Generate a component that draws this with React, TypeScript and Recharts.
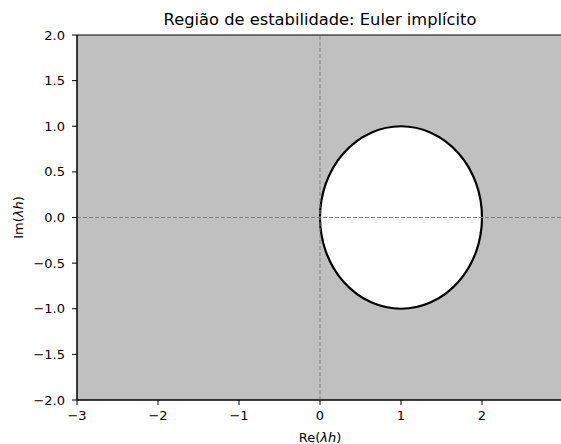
import React from "react";
import {
  ComposedChart,
  XAxis,
  YAxis,
  ReferenceArea,
  ReferenceLine,
} from "recharts";

// Data
const xDomain: [number, number] = [-3, 3];
const yDomain: [number, number] = [-2, 2];
const xTicks = [-3, -2, -1, 0, 1, 2];
const yTicks = [-2, -1.5, -1, -0.5, 0, 0.5, 1, 1.5, 2];
const stableCenter = [1, 0]; // |1/(1 - λh)| <= 1  <=>  |λh - 1| >= 1
const stableRadius = 1;
const titleText = "Região de estabilidade: Euler implícito";

const FONT = "DejaVu Sans, Verdana, sans-serif";
const TICK_FS = 13;

const fmtX = (v: number) => (v < 0 ? "\u2212" + Math.abs(v) : String(v));
const fmtY = (v: number) =>
  v < 0 ? "\u2212" + Math.abs(v).toFixed(1) : v.toFixed(1);

const EllipseShape = (props: any) => {
  const { x, y, width, height } = props;
  return (
    <ellipse
      cx={x + width / 2}
      cy={y + height / 2}
      rx={Math.abs(width) / 2}
      ry={Math.abs(height) / 2}
      fill="#ffffff"
      stroke="#000000"
      strokeWidth={2.2}
    />
  );
};

const XLabel = (props: any) => {
  const vb = props.viewBox || {};
  return (
    <text
      x={vb.x + vb.width / 2}
      y={vb.y + 37}
      textAnchor="middle"
      dominantBaseline="central"
      fontFamily={FONT}
      fontSize={TICK_FS}
      fill="#000"
    >
      Re(<tspan fontStyle="italic">λh</tspan>)
    </text>
  );
};

const YLabel = (props: any) => {
  const vb = props.viewBox || {};
  const cx = 18;
  const cy = vb.y + vb.height / 2;
  return (
    <text
      x={cx}
      y={cy}
      textAnchor="middle"
      dominantBaseline="central"
      transform={`rotate(-90, ${cx}, ${cy})`}
      fontFamily={FONT}
      fontSize={TICK_FS}
      fill="#000"
    >
      Im(<tspan fontStyle="italic">λh</tspan>)
    </text>
  );
};

export default function App() {
  return (
    <div
      style={{
        position: "absolute",
        left: 0,
        top: 0,
        width: 561,
        height: 444,
        overflow: "hidden",
        background: "#fff",
      }}
    >
      <svg
        width={561}
        height={34}
        style={{ position: "absolute", left: 0, top: 0 }}
      >
        <text
          x={320}
          y={25}
          textAnchor="middle"
          fontFamily={FONT}
          fontSize={16.3}
          fill="#000"
        >
          {titleText}
        </text>
      </svg>
      <ComposedChart
        width={575}
        height={444}
        data={[]}
        margin={{ top: 35, right: 12, bottom: 0, left: 0 }}
      >
        <XAxis
          type="number"
          dataKey="x"
          domain={xDomain}
          ticks={xTicks}
          allowDataOverflow
          tickFormatter={fmtX}
          height={44}
          tickSize={5}
          tickMargin={6}
          axisLine={{ stroke: "#000" }}
          tickLine={{ stroke: "#000" }}
          tick={{ fill: "#000", fontSize: TICK_FS, fontFamily: FONT }}
          interval={0}
          label={<XLabel />}
        />
        <YAxis
          type="number"
          dataKey="y"
          domain={yDomain}
          ticks={yTicks}
          allowDataOverflow
          tickFormatter={fmtY}
          width={77}
          tickSize={5}
          tickMargin={7}
          axisLine={{ stroke: "#000" }}
          tickLine={{ stroke: "#000" }}
          tick={{ fill: "#000", fontSize: TICK_FS, fontFamily: FONT }}
          interval={0}
          label={<YLabel />}
        />
        <ReferenceArea
          x1={xDomain[0]}
          x2={xDomain[1]}
          y1={yDomain[0]}
          y2={yDomain[1]}
          fill="#c0c0c0"
          fillOpacity={1}
          stroke="#000"
          strokeWidth={1}
          ifOverflow="visible"
        />
        <ReferenceArea
          x1={stableCenter[0] - stableRadius}
          x2={stableCenter[0] + stableRadius}
          y1={stableCenter[1] - stableRadius}
          y2={stableCenter[1] + stableRadius}
          shape={<EllipseShape />}
          ifOverflow="visible"
        />
        <ReferenceLine
          x={0}
          stroke="#808080"
          strokeDasharray="4 2"
          strokeWidth={1}
        />
        <ReferenceLine
          y={0}
          stroke="#808080"
          strokeDasharray="4 2"
          strokeWidth={1}
        />
      </ComposedChart>
    </div>
  );
}
